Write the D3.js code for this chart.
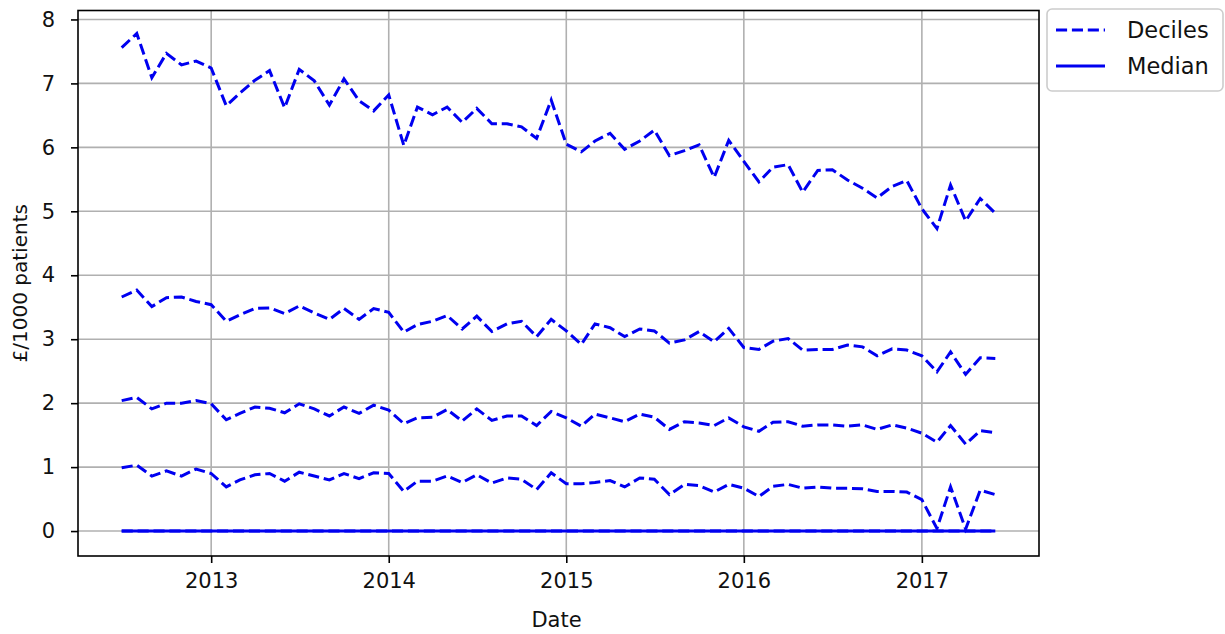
<!DOCTYPE html>
<html><head><meta charset="utf-8">
<script src="https://cdn.jsdelivr.net/npm/d3@7"></script>
<style>body{margin:0;background:#fff}svg{display:block}</style>
</head><body>
<svg id="chart" width="1225" height="634"></svg>
<script>
const months = ["2012-07","2012-08","2012-09","2012-10","2012-11","2012-12",
"2013-01","2013-02","2013-03","2013-04","2013-05","2013-06","2013-07","2013-08","2013-09","2013-10","2013-11","2013-12",
"2014-01","2014-02","2014-03","2014-04","2014-05","2014-06","2014-07","2014-08","2014-09","2014-10","2014-11","2014-12",
"2015-01","2015-02","2015-03","2015-04","2015-05","2015-06","2015-07","2015-08","2015-09","2015-10","2015-11","2015-12",
"2016-01","2016-02","2016-03","2016-04","2016-05","2016-06","2016-07","2016-08","2016-09","2016-10","2016-11","2016-12",
"2017-01","2017-02","2017-03","2017-04","2017-05","2017-06"];

const decileTop = [7.56,7.78,7.09,7.47,7.29,7.35,7.24,6.65,6.85,7.05,7.20,6.62,7.22,7.04,6.66,7.07,6.73,6.57,6.82,6.03,
6.63,6.51,6.63,6.39,6.61,6.37,6.37,6.32,6.14,6.74,6.05,5.93,6.10,6.22,5.97,6.10,6.27,5.87,5.95,6.04,
5.53,6.11,5.78,5.46,5.69,5.73,5.30,5.64,5.65,5.49,5.36,5.21,5.39,5.48,5.04,4.73,5.41,4.85,5.20,4.97];

const decileHigh = [3.66,3.77,3.51,3.65,3.66,3.59,3.54,3.28,3.38,3.48,3.49,3.40,3.52,3.41,3.31,3.48,3.31,3.48,3.42,3.11,
3.23,3.28,3.37,3.16,3.36,3.12,3.24,3.28,3.04,3.31,3.13,2.92,3.24,3.18,3.04,3.16,3.13,2.94,2.99,3.12,
2.96,3.17,2.87,2.84,2.97,3.01,2.83,2.84,2.84,2.91,2.88,2.74,2.85,2.83,2.74,2.49,2.80,2.45,2.71,2.70];

const decileMid = [2.04,2.09,1.91,2.00,2.00,2.04,1.99,1.74,1.84,1.94,1.92,1.85,1.99,1.91,1.80,1.94,1.84,1.97,1.89,1.68,
1.77,1.78,1.90,1.72,1.91,1.73,1.80,1.80,1.65,1.87,1.77,1.64,1.83,1.77,1.71,1.83,1.78,1.59,1.71,1.69,
1.65,1.77,1.63,1.56,1.70,1.71,1.64,1.66,1.66,1.64,1.66,1.59,1.66,1.61,1.53,1.39,1.65,1.36,1.57,1.54];

const decileLow = [0.99,1.03,0.86,0.94,0.86,0.97,0.90,0.69,0.80,0.88,0.90,0.78,0.92,0.86,0.80,0.90,0.82,0.91,0.90,0.62,
0.78,0.78,0.86,0.76,0.88,0.75,0.83,0.81,0.65,0.91,0.74,0.74,0.76,0.79,0.69,0.83,0.81,0.57,0.73,0.71,
0.61,0.73,0.67,0.54,0.70,0.73,0.67,0.69,0.67,0.67,0.66,0.62,0.62,0.61,0.49,0.04,0.69,0.03,0.64,0.57];

const decileZero = [0,0,0,0,0,0,0,0,0,0,0,0,0,0,0,0,0,0,0,0,0,0,0,0,0,0,0,0,0,0,
0,0,0,0,0,0,0,0,0,0,0,0,0,0,0,0,0,0,0,0,0,0,0,0,0,0,0,0,0,0];

const median = [0,0,0,0,0,0,0,0,0,0,0,0,0,0,0,0,0,0,0,0,0,0,0,0,0,0,0,0,0,0,
0,0,0,0,0,0,0,0,0,0,0,0,0,0,0,0,0,0,0,0,0,0,0,0,0,0,0,0,0,0];

const yTicks = [0,1,2,3,4,5,6,7,8];
const xTickLabels = ["2013","2014","2015","2016","2017"];
const legendLabels = ["Deciles","Median"];
const yLabel = "£/1000 patients";
const xLabel = "Date";

const FONT = "DejaVu Sans, sans-serif";
const BLUE = "#0000f0";
const plot = {left:78, right:1039, top:10.5, bottom:556};

const svg = d3.select("#chart");
const parse = d3.utcParse("%Y-%m");
const dates = months.map(parse);
const span = dates[dates.length-1] - dates[0];
const x = d3.scaleUtc()
  .domain([new Date(+dates[0] - 0.05*span), new Date(+dates[dates.length-1] + 0.05*span)])
  .range([plot.left, plot.right]);
const y = d3.scaleLinear().domain([-0.39, 8.14]).range([plot.bottom, plot.top]);
const xTicks = xTickLabels.map(s => d3.utcParse("%Y")(s));

// grid
const grid = svg.append("g").attr("stroke","#b0b0b0").attr("stroke-width",1.6);
grid.selectAll("line.gx").data(xTicks).join("line")
  .attr("x1", d=>x(d)).attr("x2", d=>x(d)).attr("y1", plot.top).attr("y2", plot.bottom);
grid.selectAll("line.gy").data(yTicks).join("line")
  .attr("y1", d=>y(d)).attr("y2", d=>y(d)).attr("x1", plot.left).attr("x2", plot.right);

// lines
const line = d3.line().x((d,i)=>x(dates[i])).y(d=>y(d));
const deciles = [decileTop, decileHigh, decileMid, decileLow, decileZero];
svg.append("g").selectAll("path").data(deciles).join("path")
  .attr("d", line).attr("fill","none").attr("stroke",BLUE).attr("stroke-width",3)
  .attr("stroke-dasharray","11.1,4.8");
svg.append("path").datum(median).attr("d", line).attr("fill","none")
  .attr("stroke",BLUE).attr("stroke-width",3);

// axes
const xAxis = d3.axisBottom(x).tickValues(xTicks).tickFormat(d3.utcFormat("%Y")).tickSize(7).tickPadding(10);
const gx = svg.append("g").attr("transform",`translate(0,${plot.bottom})`).call(xAxis);
const yAxis = d3.axisLeft(y).tickValues(yTicks).tickFormat(d3.format("d")).tickSize(7).tickPadding(16);
const gy = svg.append("g").attr("transform",`translate(${plot.left},0)`).call(yAxis);
[gx,gy].forEach(g=>{
  g.select(".domain").remove();
  g.selectAll(".tick line").attr("stroke","#000").attr("stroke-width",1.6);
  g.selectAll(".tick text").attr("fill","#111").style("font-family",FONT).style("font-size","21px");
});

// frame
svg.append("rect").attr("x",plot.left).attr("y",plot.top)
  .attr("width",plot.right-plot.left).attr("height",plot.bottom-plot.top)
  .attr("fill","none").attr("stroke","#000").attr("stroke-width",1.6);

// labels
svg.append("text").attr("x",(plot.left+plot.right)/2 - 2).attr("y",627)
  .attr("text-anchor","middle").attr("fill","#111").style("font-family",FONT).style("font-size","21px").text(xLabel);
svg.append("text").attr("transform",`translate(27,${(plot.top+plot.bottom)/2}) rotate(-90)`)
  .attr("text-anchor","middle").attr("fill","#111").style("font-family",FONT).style("font-size","20px").text(yLabel);

// legend
const lg = svg.append("g");
lg.append("rect").attr("x",1047).attr("y",9).attr("width",176).attr("height",82).attr("rx",5)
  .attr("fill","#fff").attr("fill-opacity",0.8).attr("stroke","#cccccc").attr("stroke-width",1.6);
legendLabels.forEach((lab,i)=>{
  const yy = 30 + i*36;
  lg.append("line").attr("x1",1056).attr("x2",1105).attr("y1",yy).attr("y2",yy)
    .attr("stroke",BLUE).attr("stroke-width",3).attr("stroke-dasharray", i===0 ? "11.1,4.8" : null);
  lg.append("text").attr("x",1127).attr("y",yy+8).attr("fill","#111")
    .style("font-family",FONT).style("font-size","22.5px").text(lab);
});
</script>
</body></html>
